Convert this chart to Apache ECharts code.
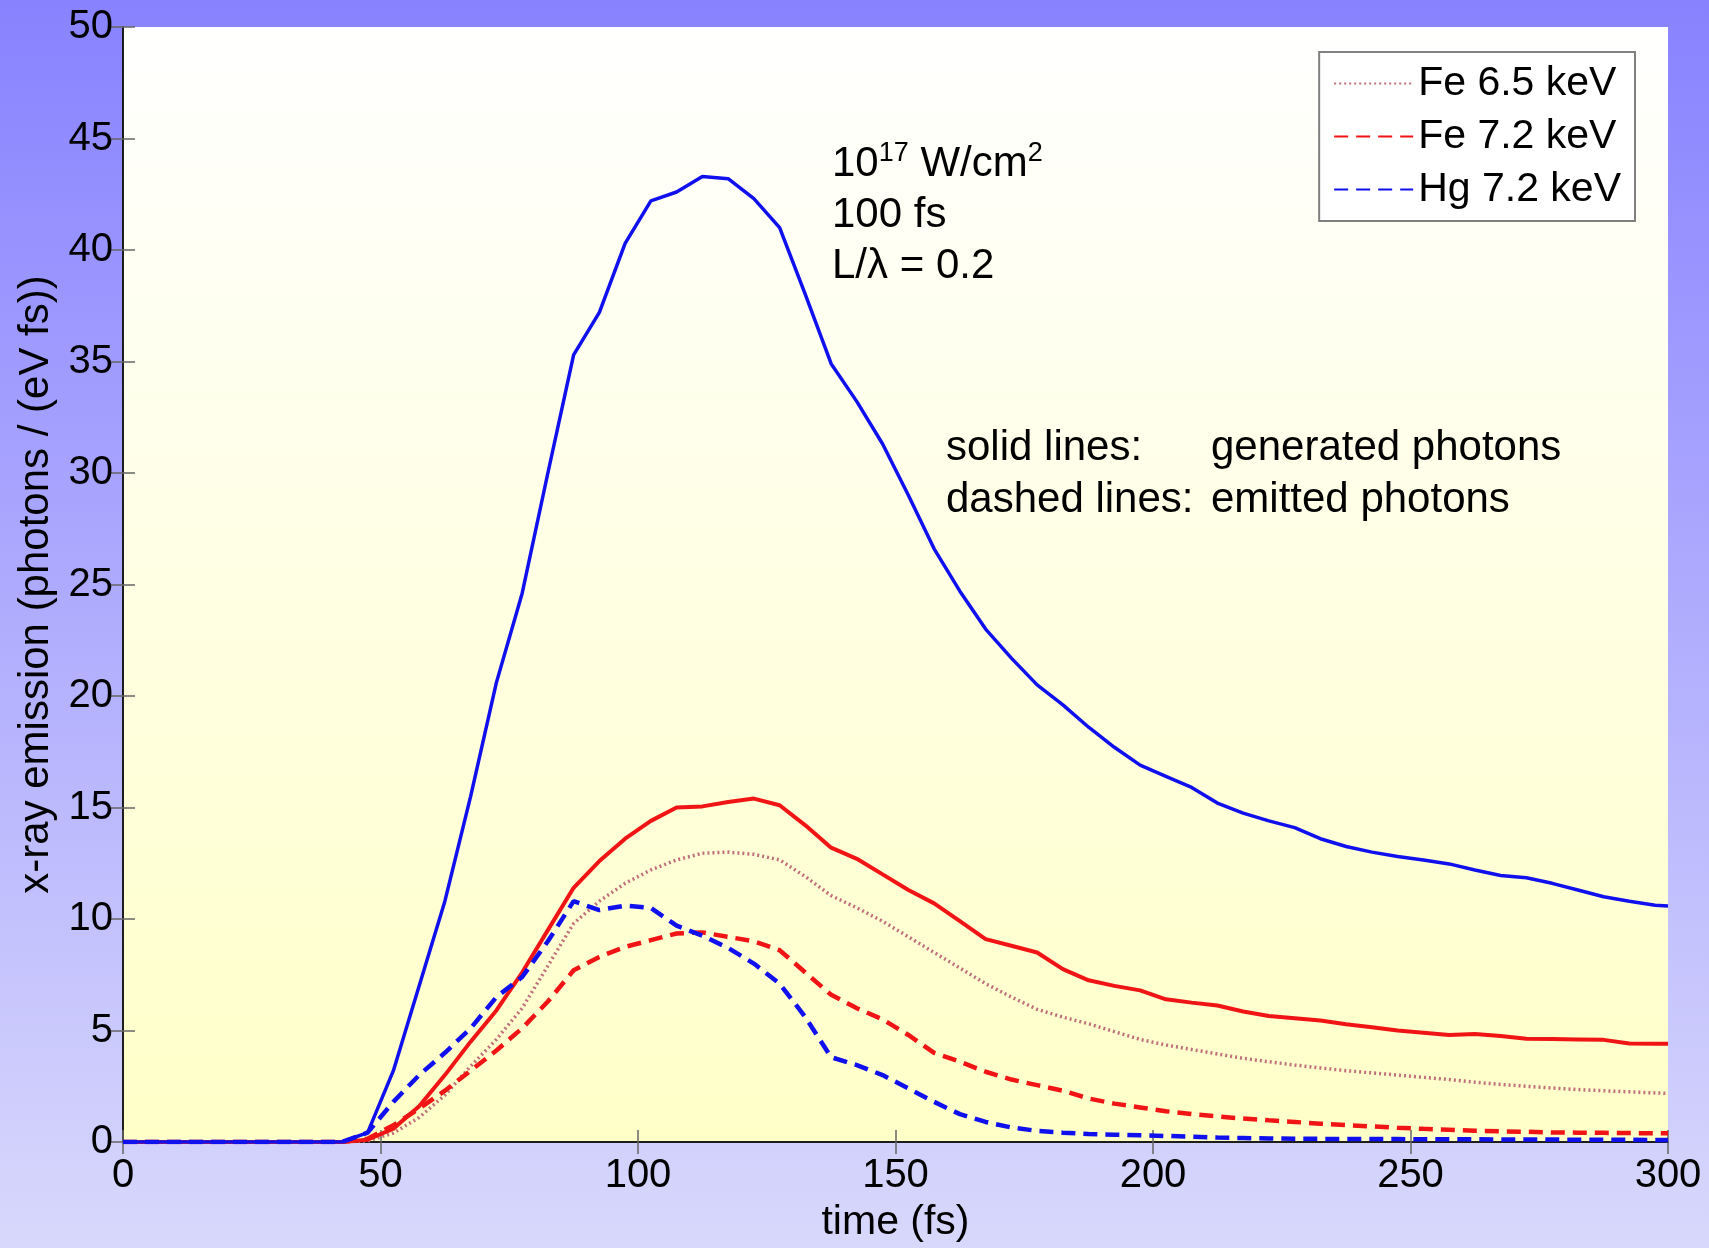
<!DOCTYPE html>
<html>
<head>
<meta charset="utf-8">
<script src="https://cdn.jsdelivr.net/npm/echarts@6.0.0/dist/echarts.min.js"></script>
<style>
  html, body { margin: 0; padding: 0; }
  #chart { width: 1709px; height: 1248px; }
</style>
</head>
<body>
<div id="chart"></div>
<script>
// time axis (fs), shared by all curves
const timeFs = [0, 42.5, 47.5, 52.5, 57.5, 62.5, 67.5, 72.5, 77.5, 82.5,
  87.5, 92.5, 97.5, 102.5, 107.5, 112.5, 117.5, 122.5, 127.5, 132.5,
  137.5, 142.5, 147.5, 152.5, 157.5, 162.5, 167.5, 172.5, 177.5, 182.5,
  187.5, 192.5, 197.5, 202.5, 207.5, 212.5, 217.5, 222.5, 227.5, 232.5,
  237.5, 242.5, 247.5, 252.5, 257.5, 262.5, 267.5, 272.5, 277.5, 282.5,
  287.5, 292.5, 297.5, 300];

// Hg 7.2 keV, generated (solid blue)
const hgGenerated = [0, 0, 0.42, 3.2, 7.0, 10.8, 15.5, 20.6, 24.6, 30.0,
  35.3, 37.2, 40.3, 42.2, 42.6, 43.3, 43.2, 42.3, 41.0, 38.0,
  34.9, 33.2, 31.3, 29.0, 26.6, 24.7, 23.0, 21.7, 20.5, 19.6,
  18.6, 17.7, 16.9, 16.4, 15.9, 15.2, 14.75, 14.4, 14.1, 13.6,
  13.25, 13.0, 12.8, 12.65, 12.47, 12.2, 11.95, 11.85, 11.6, 11.3,
  11.0, 10.8, 10.62, 10.58];

// Fe 7.2 keV, generated (solid red)
const feGenerated = [0, 0, 0.1, 0.6, 1.6, 3.0, 4.5, 5.9, 7.6, 9.5,
  11.4, 12.6, 13.6, 14.4, 15.0, 15.05, 15.25, 15.4, 15.1, 14.2,
  13.2, 12.7, 12.0, 11.3, 10.7, 9.9, 9.1, 8.8, 8.5, 7.75,
  7.25, 7.0, 6.8, 6.4, 6.25, 6.12, 5.85, 5.65, 5.55, 5.45,
  5.28, 5.15, 5.0, 4.9, 4.8, 4.84, 4.75, 4.63, 4.62, 4.6,
  4.58, 4.42, 4.41, 4.41];

// Fe 6.5 keV (dotted)
const fe65 = [0, 0, 0.05, 0.4, 1.1, 2.1, 3.4, 4.6, 6.0, 7.9,
  9.8, 10.8, 11.6, 12.2, 12.65, 12.95, 13.0, 12.9, 12.65, 11.9,
  11.05, 10.5, 9.9, 9.2, 8.5, 7.8, 7.1, 6.5, 5.95, 5.6,
  5.3, 4.95, 4.6, 4.35, 4.15, 3.95, 3.75, 3.6, 3.45, 3.32,
  3.2, 3.1, 3.0, 2.9, 2.8, 2.68, 2.58, 2.5, 2.42, 2.35,
  2.3, 2.25, 2.2, 2.18];

// Fe 7.2 keV, emitted (dashed red)
const feEmitted = [0, 0, 0.15, 0.75, 1.5, 2.3, 3.2, 4.1, 5.1, 6.3,
  7.7, 8.3, 8.75, 9.05, 9.35, 9.4, 9.2, 9.0, 8.6, 7.6,
  6.6, 6.0, 5.5, 4.8, 4.0, 3.6, 3.15, 2.8, 2.55, 2.3,
  1.95, 1.72, 1.55, 1.38, 1.25, 1.15, 1.05, 0.97, 0.9, 0.82,
  0.76, 0.7, 0.64, 0.59, 0.55, 0.51, 0.48, 0.46, 0.43, 0.42,
  0.41, 0.4, 0.39, 0.39];

// Hg 7.2 keV, emitted (dashed blue)
const hgEmitted = [0, 0, 0.42, 1.8, 3.0, 4.0, 5.1, 6.5, 7.4, 9.0,
  10.8, 10.4, 10.6, 10.5, 9.7, 9.25, 8.7, 8.0, 7.1, 5.6,
  3.8, 3.45, 3.0, 2.4, 1.8, 1.25, 0.9, 0.65, 0.5, 0.42,
  0.36, 0.33, 0.3, 0.27, 0.24, 0.2, 0.18, 0.16, 0.15, 0.14,
  0.14, 0.13, 0.13, 0.12, 0.12, 0.12, 0.11, 0.11, 0.11, 0.1,
  0.1, 0.1, 0.09, 0.09];

const legendNames = ['Fe 6.5 keV', 'Fe 7.2 keV', 'Hg 7.2 keV'];

const FONT = '"Liberation Sans", Arial, Helvetica, sans-serif';
const BLUE = '#1010ee';
const RED = '#f01414';
const ROSE = '#c0707a';

function pairs(values) {
  return timeFs.map((t, i) => [t, values[i]]);
}

function lineSeries(name, values, color, width, type, z) {
  return {
    name: name,
    type: 'line',
    data: pairs(values),
    showSymbol: false,
    symbol: 'none',
    smooth: false,
    z: z,
    lineStyle: { color: color, width: width, type: type },
    itemStyle: { color: color },
    emphasis: { disabled: true }
  };
}

const chart = echarts.init(document.getElementById('chart'));

const hiddenAxis = {
  min: 0,
  axisLabel: { show: false },
  axisLine: { show: true, lineStyle: { color: '#111', width: 1.5 } },
  axisTick: { show: true, inside: true, length: 12, lineStyle: { color: '#666', width: 1.5 } },
  splitLine: { show: false }
};

const option = {
  animation: false,
  backgroundColor: new echarts.graphic.LinearGradient(0, 0, 0, 1, [
    { offset: 0, color: '#8882ff' },
    { offset: 1, color: '#d8d8fc' }
  ]),
  textStyle: { fontFamily: FONT },
  grid: {
    left: 123, right: 41, top: 27, bottom: 102,
    show: true,
    borderWidth: 0,
    backgroundColor: new echarts.graphic.LinearGradient(0, 0, 0, 1, [
      { offset: 0, color: '#ffffff' },
      { offset: 1, color: '#ffffc8' }
    ])
  },
  legend: {
    data: legendNames,
    orient: 'vertical',
    right: 74,
    top: 52,
    padding: [11, 14, 11, 14],
    itemGap: 12,
    itemWidth: 79,
    itemHeight: 14,
    backgroundColor: '#ffffff',
    borderColor: '#808080',
    borderWidth: 2,
    selectedMode: false,
    itemStyle: { opacity: 0 },
    textStyle: { fontFamily: FONT, fontSize: 41, color: '#000' }
  },
  xAxis: [
    {
      type: 'value', min: 0, max: 300, interval: 50,
      name: 'time (fs)', nameLocation: 'middle', nameGap: 60,
      nameTextStyle: { fontFamily: FONT, fontSize: 41, color: '#000' },
      axisLabel: { fontFamily: FONT, fontSize: 40, color: '#000', margin: 14 },
      axisLine: { show: true, onZero: false, lineStyle: { color: '#111', width: 1.5 } },
      axisTick: { show: true, inside: true, length: 12, lineStyle: { color: '#666', width: 1.5 } },
      splitLine: { show: false }
    },
    Object.assign({ type: 'value', position: 'top', max: 300, interval: 50 }, hiddenAxis)
  ],
  yAxis: [
    {
      type: 'value', min: 0, max: 50, interval: 5,
      name: 'x-ray emission (photons / (eV fs))', nameLocation: 'middle', nameGap: 63,
      nameTextStyle: { fontFamily: FONT, fontSize: 42, color: '#000' },
      axisLabel: { fontFamily: FONT, fontSize: 40, color: '#000', margin: 10 },
      axisLine: { show: true, onZero: false, lineStyle: { color: '#111', width: 1.5 } },
      axisTick: { show: true, inside: true, length: 12, lineStyle: { color: '#666', width: 1.5 } },
      splitLine: { show: false }
    },
    Object.assign({ type: 'value', position: 'right', max: 50, interval: 5 }, hiddenAxis)
  ],
  series: [
    lineSeries('Fe 6.5 keV', fe65, ROSE, 3.5, [2, 3], 3),
    lineSeries('Fe 7.2 keV generated', feGenerated, RED, 4, 'solid', 4),
    lineSeries('Fe 7.2 keV', feEmitted, RED, 4.5, [14, 8], 5),
    lineSeries('Hg 7.2 keV generated', hgGenerated, BLUE, 3.5, 'solid', 6),
    lineSeries('Hg 7.2 keV', hgEmitted, BLUE, 4.5, [14, 8], 7)
  ],
  graphic: [
    {
      type: 'text', left: 832, top: 140, z: 10,
      style: {
        text: '10{sup|17} W/cm{sup|2}',
        fontFamily: FONT, fontSize: 42, fill: '#000',
        rich: { sup: { fontFamily: FONT, fontSize: 27, padding: [0, 0, 22, 0] } }
      }
    },
    {
      type: 'text', left: 832, top: 194, z: 10,
      style: { text: '100 fs', fontFamily: FONT, fontSize: 42, fill: '#000' }
    },
    {
      type: 'text', left: 832, top: 245, z: 10,
      style: { text: 'L/\u03bb = 0.2', fontFamily: FONT, fontSize: 42, fill: '#000' }
    },
    {
      type: 'text', left: 946, top: 427, z: 10,
      style: { text: 'solid lines:', fontFamily: FONT, fontSize: 42, fill: '#000' }
    },
    {
      type: 'text', left: 1211, top: 427, z: 10,
      style: { text: 'generated photons', fontFamily: FONT, fontSize: 42, fill: '#000' }
    },
    {
      type: 'text', left: 946, top: 479, z: 10,
      style: { text: 'dashed lines:', fontFamily: FONT, fontSize: 42, fill: '#000' }
    },
    {
      type: 'text', left: 1211, top: 479, z: 10,
      style: { text: 'emitted photons', fontFamily: FONT, fontSize: 42, fill: '#000' }
    }
  ]
};

chart.setOption(option);
</script>
</body>
</html>
